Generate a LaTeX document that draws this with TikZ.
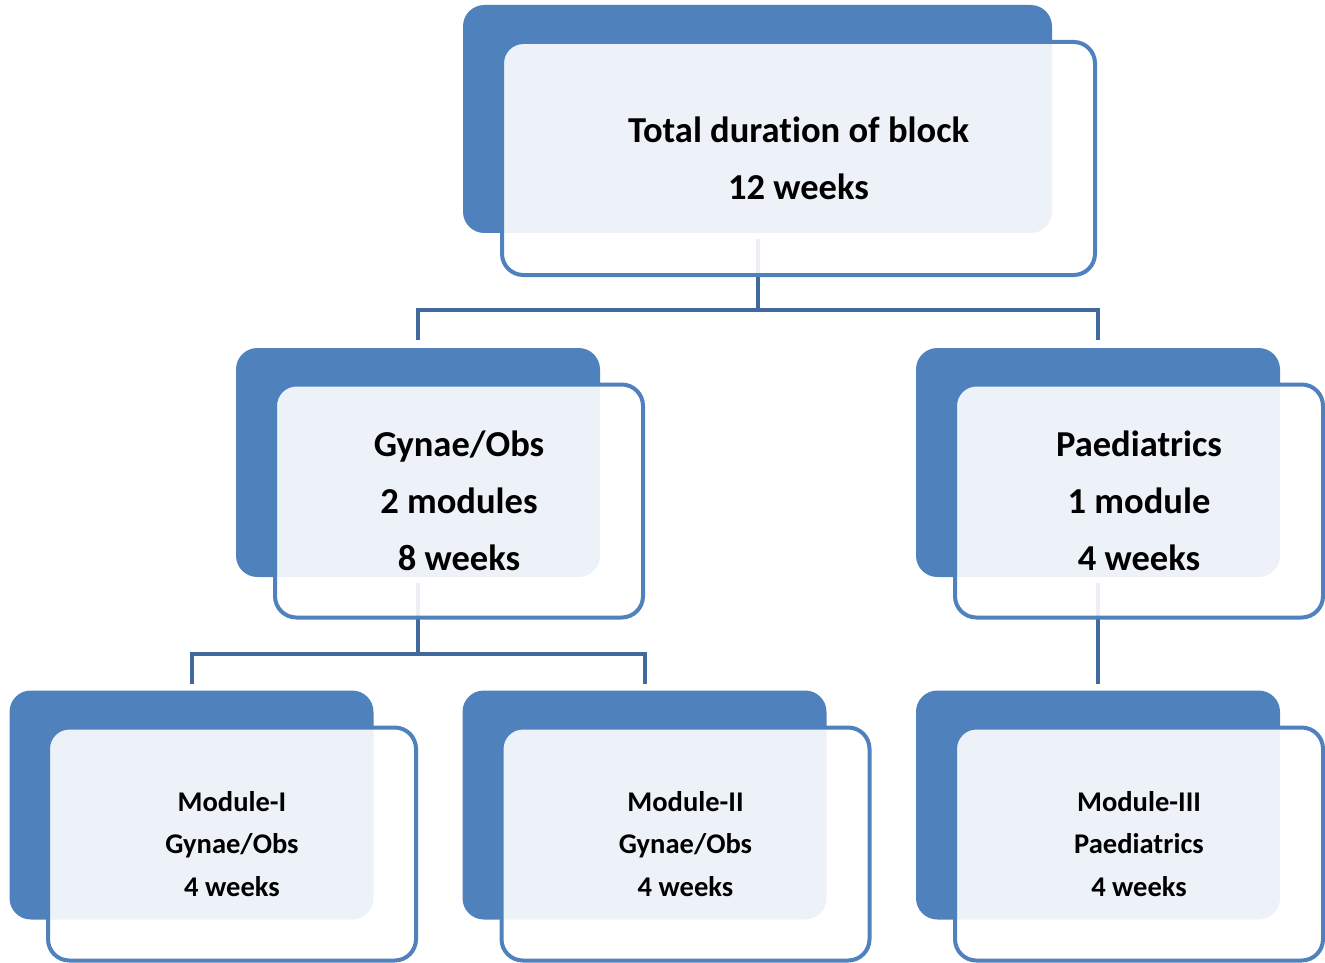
\documentclass[tikz,border=0pt]{standalone}
\usepackage{fontspec}
\setmainfont{Carlito}[Ligatures=NoCommon]
\begin{document}
\begin{tikzpicture}[x=0.75pt,y=-0.75pt,
  back/.style={fill=boxblue,draw=none,rounded corners=16pt,inner sep=0pt,
    minimum width=364*0.75pt,minimum height=229*0.75pt},
  front/.style={fill=white,fill opacity=0.9,text opacity=1,draw=boxblue,
    line width=3pt,rounded corners=16pt,inner sep=0pt,align=center,
    minimum width=368*0.75pt,minimum height=233*0.75pt},
  bigtext/.style={font=\bfseries\fontsize{27.4}{42.75}\selectfont},
  smalltext/.style={font=\bfseries\fontsize{21.4}{32}\selectfont},
  conn/.style={draw=connblue,line width=3pt}]
\definecolor{boxblue}{HTML}{4F81BD}
\definecolor{connblue}{HTML}{41699C}
\useasboundingbox (0,0) rectangle (1325,963);

% back plates
\node[back,minimum width=589*0.75pt,minimum height=228*0.75pt] (topB) at (757.5,119) {};
\node[back] (gynB)  at (418,462.5) {};
\node[back] (paedB) at (1098,462.5) {};
\node[back] (m1B) at (191.5,805) {};
\node[back] (m2B) at (644.5,805) {};
\node[back] (m3B) at (1098,805) {};

% connectors
\draw[conn] ([yshift=-4.5pt]topB.south) -- ++(0,71) -| ([yshift=6pt]gynB.north);
\draw[conn] ([yshift=-4.5pt]topB.south) -- ++(0,71) -| ([yshift=6pt]paedB.north);
\draw[conn] ([yshift=-4pt]gynB.south) -- ++(0,71) -| ([yshift=5pt]m1B.north);
\draw[conn] ([yshift=-4pt]gynB.south) -- ++(0,71) -| ([yshift=5pt]m2B.north);
\draw[conn] ([yshift=-4pt]paedB.south) -- ([yshift=5pt]m3B.north);

% front panels with text
\node[front,bigtext,minimum width=593*0.75pt] (topF) at (798.5,158.5)
  {Total duration of block\\12 weeks};
\node[front,bigtext] (gynF) at (459,501) {Gynae/Obs\\2 modules\\8 weeks};
\node[front,bigtext] (paedF) at (1139,501) {Paediatrics\\1 module\\4 weeks};
\node[front,smalltext] (m1F) at (232,844) {Module-I\\Gynae/Obs\\4 weeks};
\node[front,smalltext] (m2F) at (685.5,844) {Module-II\\Gynae/Obs\\4 weeks};
\node[front,smalltext] (m3F) at (1139,844) {Module-III\\Paediatrics\\4 weeks};
\end{tikzpicture}
\end{document}
